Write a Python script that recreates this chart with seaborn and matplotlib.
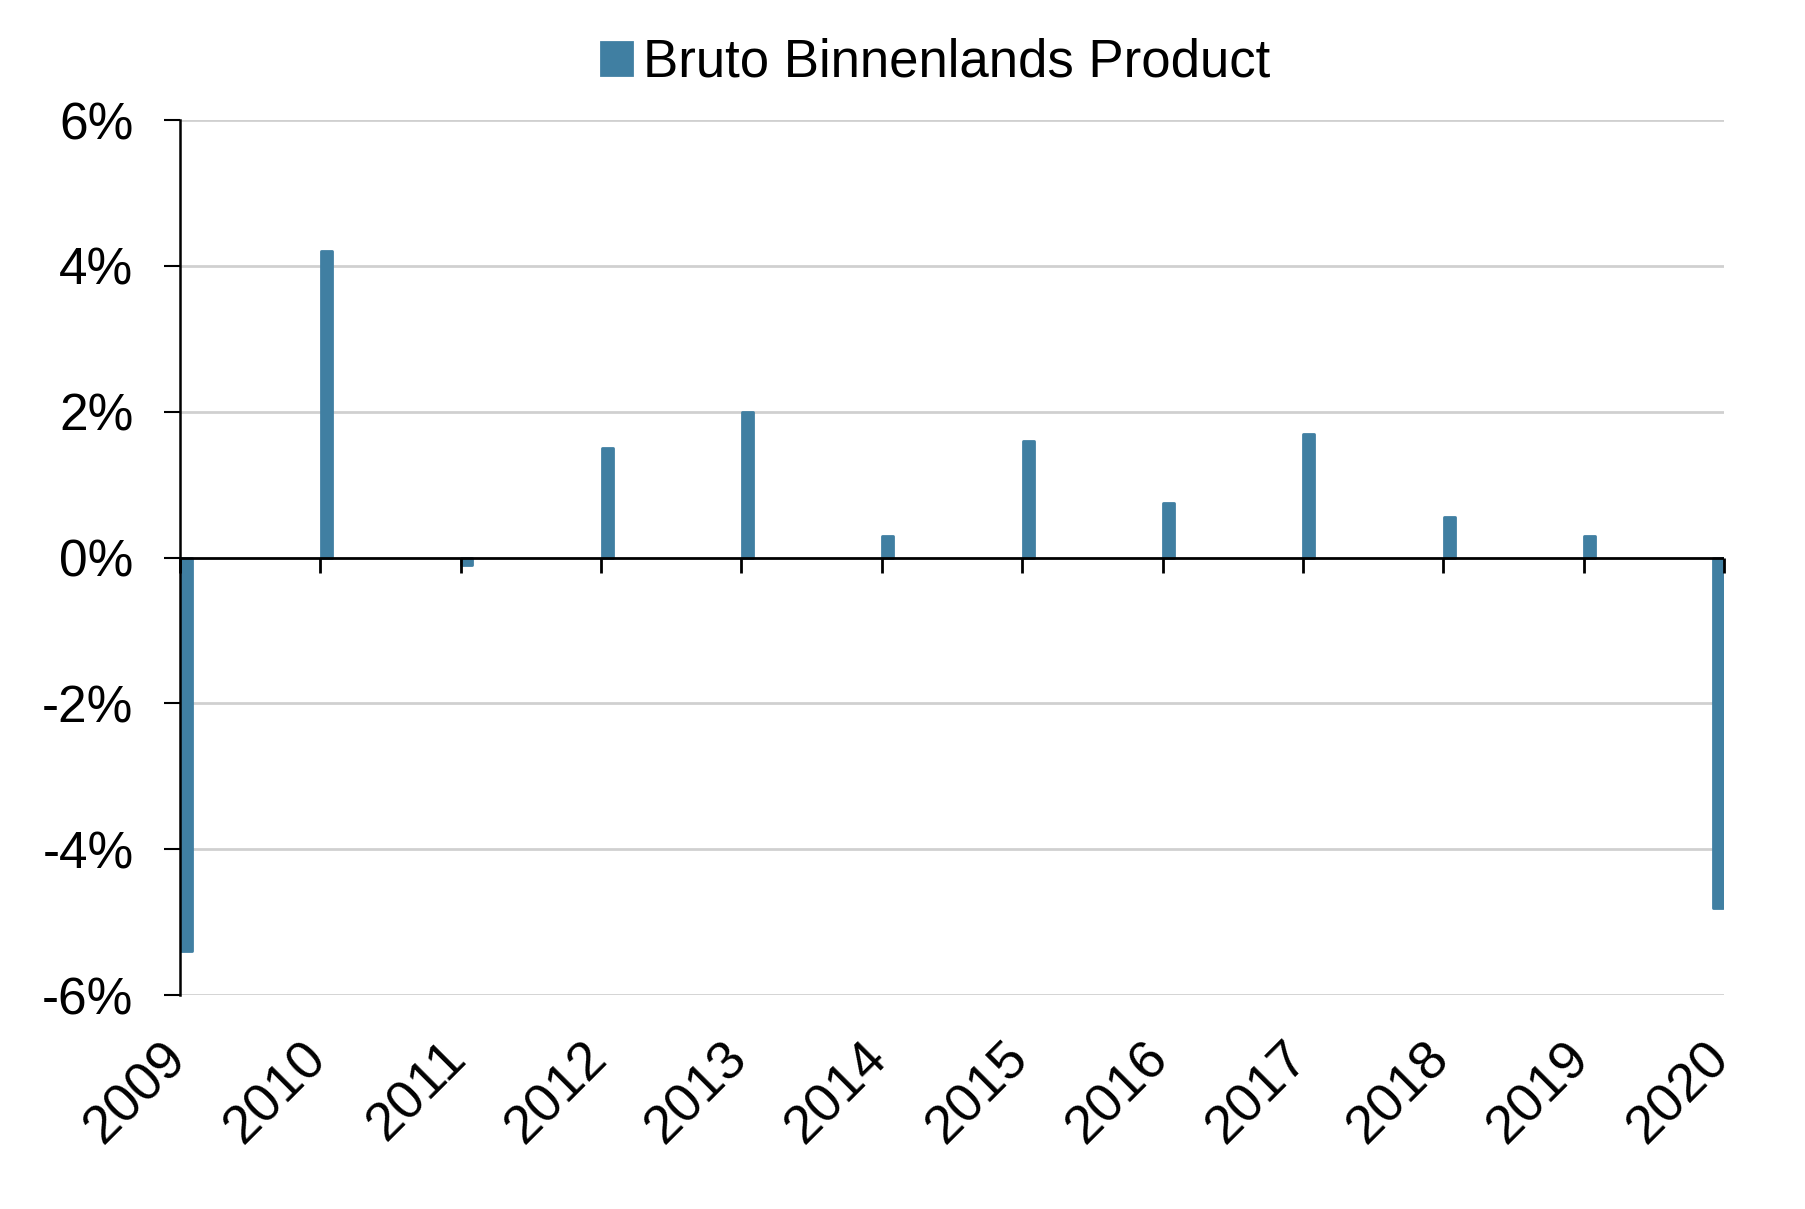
import numpy as np
import pandas as pd
import matplotlib
matplotlib.use("Agg")
import matplotlib.pyplot as plt
from matplotlib.patches import Patch
from matplotlib.transforms import ScaledTranslation
import seaborn as sns

# Data (jaarlijkse groei BBP, %)
jaren = [2009, 2010, 2011, 2012, 2013, 2014, 2015, 2016, 2017, 2018, 2019, 2020]
groei = [-5.4, 4.2, -0.1, 1.5, 2.0, 0.3, 1.6, 0.75, 1.7, 0.55, 0.3, -4.8]
y_ticks = [-6, -4, -2, 0, 2, 4, 6]
reeks = "Bruto Binnenlands Product"

df = pd.DataFrame({"Jaar": jaren, "Groei": groei})

kleur = "#407fa2"
breedte = 0.078

sns.set_style("white")
plt.rcParams["font.family"] = ["Liberation Sans", "DejaVu Sans"]

fig = plt.figure(figsize=(18.06, 12.09), dpi=100)
ax = fig.add_axes([0.0997, 0.177, 0.8549, 0.7237])

sns.barplot(data=df, x="Jaar", y="Groei", native_scale=True, width=breedte,
            color=kleur, saturation=1, ax=ax, zorder=3)

# balken links uitlijnen op de tick (laatste rechts, binnen de as)
for i, p in enumerate(ax.patches):
    w = p.get_width()
    shift = 0.55 * w if i < len(ax.patches) - 1 else -0.55 * w
    p.set_x(p.get_x() + shift)
    p.set_edgecolor(kleur)
    p.set_linewidth(2)
    p.set_joinstyle("round")

ax.set_xlim(jaren[0], jaren[-1])
ax.set_ylim(y_ticks[0], y_ticks[-1])
ax.set_yticks(y_ticks)
ax.set_yticklabels([f"{t}%" for t in y_ticks])
ax.set_xticks(jaren)
ax.set_xticklabels([str(j) for j in jaren], rotation=45, ha="right",
                   rotation_mode="anchor")
ax.set_xlabel("")
ax.set_ylabel("")

# gridlijnen
for t in y_ticks:
    if t != 0:
        ax.axhline(t, color="#d0d0d0", lw=2, zorder=1)

# nul-as met ticks naar beneden
ax.axhline(0, color="black", lw=2, zorder=4)
ax.plot(jaren, [0] * len(jaren), ls="none", marker=3, markersize=11,
        mew=2, color="black", clip_on=False, zorder=4)

for s in ["top", "right", "bottom"]:
    ax.spines[s].set_visible(False)
ax.spines["left"].set_color("black")
ax.spines["left"].set_linewidth(1.8)
ax.spines["left"].set_zorder(5)

ax.tick_params(axis="y", direction="out", length=11.5, width=1.5,
               colors="black", labelsize=37, pad=22, left=True)
ax.tick_params(axis="x", length=0, labelsize=39, pad=27, bottom=True,
               labelcolor="black")

verschuiving = ScaledTranslation(-0.2, 0, fig.dpi_scale_trans)
for lbl in ax.get_xticklabels():
    lbl.set_transform(lbl.get_transform() + verschuiving)

fig.legend(handles=[Patch(facecolor=kleur, edgecolor=kleur, joinstyle="round", lw=2)],
           labels=[reeks], loc="center", bbox_to_anchor=(0.518, 0.948),
           frameon=False, fontsize=38, labelcolor="black",
           handlelength=0.6, handleheight=0.6, handletextpad=0.2)

fig.savefig("out.png", dpi=100, facecolor="white")
